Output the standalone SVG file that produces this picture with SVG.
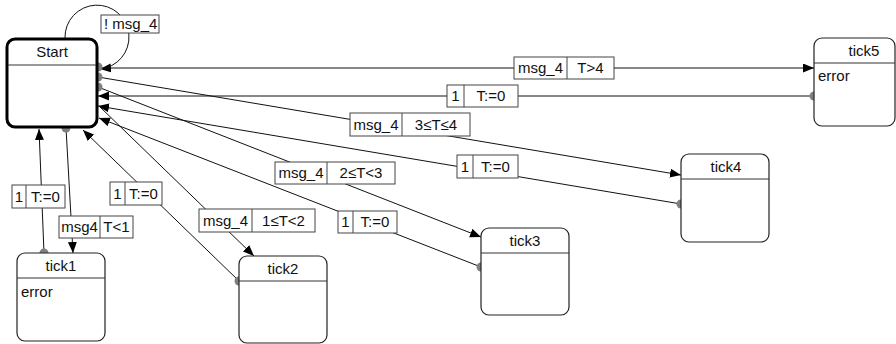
<svg xmlns="http://www.w3.org/2000/svg" width="896" height="344" viewBox="0 0 896 344">
<style>
text{font-family:"Liberation Sans",Arial,sans-serif;fill:#111}
.st{font-size:15px}
.lb{font-size:15px}
.node rect{fill:#fff;stroke:#222;stroke-width:1.2}
.node line{stroke:#333;stroke-width:1}
.edge{fill:none;stroke:#111;stroke-width:1}
.dot{fill:#808080}
.lab rect{fill:#fff;stroke:#444;stroke-width:1}
.lab line{stroke:#444;stroke-width:1}
</style>
<defs>
<marker id="ah" markerUnits="userSpaceOnUse" markerWidth="12" markerHeight="10" refX="11" refY="4.5" orient="auto">
<path d="M0,0 L11,4.5 L0,9 z" fill="#000"/>
</marker>
</defs>
<rect width="896" height="344" fill="#fff"/>
<g id="connectors">
<path class="edge" d="M65,38 A32,32 0 1 1 100,69" marker-end="url(#ah)"/>
<path class="edge" d="M98,68 L814,68" marker-end="url(#ah)"/>
<path class="edge" d="M814,96 L98,96" marker-end="url(#ah)"/>
<path class="edge" d="M98,77 L681,175" marker-end="url(#ah)"/>
<path class="edge" d="M681,204 L98,106" marker-end="url(#ah)"/>
<path class="edge" d="M98,87 L481,237" marker-end="url(#ah)"/>
<path class="edge" d="M481,267 L99,118" marker-end="url(#ah)"/>
<path class="edge" d="M99,106 L254,256" marker-end="url(#ah)"/>
<path class="edge" d="M239,281 L83,130" marker-end="url(#ah)"/>
<path class="edge" d="M66,128 L73,253" marker-end="url(#ah)"/>
<path class="edge" d="M44,253 L39,129" marker-end="url(#ah)"/>
<circle class="dot" cx="98" cy="67" r="4.5"/>
<circle class="dot" cx="98" cy="77" r="4.5"/>
<circle class="dot" cx="98" cy="87" r="4.5"/>
<circle class="dot" cx="814" cy="96" r="4.5"/>
<circle class="dot" cx="681" cy="204" r="4.5"/>
<circle class="dot" cx="481" cy="267" r="4.5"/>
<circle class="dot" cx="239" cy="281" r="4.5"/>
<circle class="dot" cx="66" cy="128" r="4.5"/>
<circle class="dot" cx="44" cy="253" r="4.5"/>
</g>
<g id="Start" class="node">
<rect x="7" y="39" width="90" height="88" rx="8" style="stroke:#000;stroke-width:3"/>
<line x1="8" y1="65" x2="96" y2="65"/>
<text class="st" x="52" y="57" text-anchor="middle">Start</text>
</g>
<g id="tick1" class="node">
<rect x="17" y="253" width="88" height="88" rx="8"/>
<line x1="17" y1="278" x2="105" y2="278"/>
<text class="st" x="61" y="271" text-anchor="middle">tick1</text>
<text class="st" x="21" y="297">error</text>
</g>
<g id="tick2" class="node">
<rect x="239" y="256" width="88" height="87" rx="8"/>
<line x1="239" y1="281" x2="327" y2="281"/>
<text class="st" x="283" y="274" text-anchor="middle">tick2</text>
</g>
<g id="tick3" class="node">
<rect x="481" y="228" width="88" height="87" rx="8"/>
<line x1="481" y1="253" x2="569" y2="253"/>
<text class="st" x="525" y="246" text-anchor="middle">tick3</text>
</g>
<g id="tick4" class="node">
<rect x="681" y="154" width="88" height="88" rx="8"/>
<line x1="681" y1="179" x2="769" y2="179"/>
<text class="st" x="726" y="172" text-anchor="middle">tick4</text>
</g>
<g id="tick5" class="node">
<rect x="814" y="38" width="81" height="88" rx="8"/>
<line x1="814" y1="63" x2="895" y2="63"/>
<text class="st" x="864" y="56" text-anchor="middle">tick5</text>
<text class="st" x="818" y="81">error</text>
</g>
<g id="labels">
<g class="lab"><rect x="101" y="15" width="58" height="18"/><text class="lb" x="104" y="29">! msg_4</text></g>
<g class="lab"><rect x="514" y="57" width="100" height="22"/><line x1="567" y1="57" x2="567" y2="79"/><text class="lb" x="540.5" y="73" text-anchor="middle">msg_4</text><text class="lb" x="590.5" y="73" text-anchor="middle">T&gt;4</text></g>
<g class="lab"><rect x="447" y="85" width="71" height="22"/><line x1="464" y1="85" x2="464" y2="107"/><text class="lb" x="455.5" y="101" text-anchor="middle">1</text><text class="lb" x="491" y="101" text-anchor="middle">T:=0</text></g>
<g class="lab"><rect x="350" y="113" width="120" height="23"/><line x1="402" y1="113" x2="402" y2="136"/><text class="lb" x="376" y="130" text-anchor="middle">msg_4</text><text class="lb" x="436" y="130" text-anchor="middle">3≤T≤4</text></g>
<g class="lab"><rect x="457" y="155" width="61" height="23"/><line x1="473" y1="155" x2="473" y2="178"/><text class="lb" x="465" y="172" text-anchor="middle">1</text><text class="lb" x="495.5" y="172" text-anchor="middle">T:=0</text></g>
<g class="lab"><rect x="275" y="162" width="120" height="22"/><line x1="327" y1="162" x2="327" y2="184"/><text class="lb" x="301" y="178" text-anchor="middle">msg_4</text><text class="lb" x="361" y="178" text-anchor="middle">2≤T&lt;3</text></g>
<g class="lab"><rect x="338" y="211" width="59" height="22"/><line x1="353" y1="211" x2="353" y2="233"/><text class="lb" x="345.5" y="227" text-anchor="middle">1</text><text class="lb" x="375" y="227" text-anchor="middle">T:=0</text></g>
<g class="lab"><rect x="199" y="209" width="116" height="23"/><line x1="252" y1="209" x2="252" y2="232"/><text class="lb" x="225.5" y="226" text-anchor="middle">msg_4</text><text class="lb" x="283.5" y="226" text-anchor="middle">1≤T&lt;2</text></g>
<g class="lab"><rect x="110" y="182" width="52" height="23"/><line x1="125" y1="182" x2="125" y2="205"/><text class="lb" x="117.5" y="199" text-anchor="middle">1</text><text class="lb" x="143.5" y="199" text-anchor="middle">T:=0</text></g>
<g class="lab"><rect x="12" y="185" width="53" height="23"/><line x1="26" y1="185" x2="26" y2="208"/><text class="lb" x="19" y="202" text-anchor="middle">1</text><text class="lb" x="45.5" y="202" text-anchor="middle">T:=0</text></g>
<g class="lab"><rect x="59" y="216" width="74" height="22"/><line x1="100" y1="216" x2="100" y2="238"/><text class="lb" x="79.5" y="232" text-anchor="middle">msg4</text><text class="lb" x="116.5" y="232" text-anchor="middle">T&lt;1</text></g>
</g>
</svg>
